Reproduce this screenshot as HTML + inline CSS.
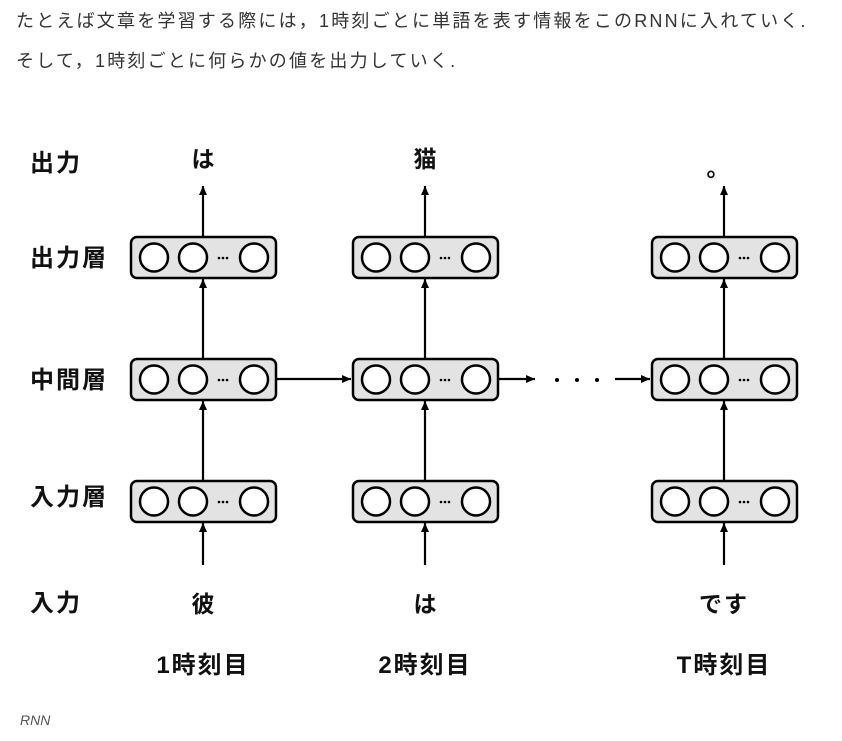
<!DOCTYPE html>
<html><head><meta charset="utf-8"><style>
body{margin:0;background:#fff;width:842px;height:741px;overflow:hidden;font-family:"Liberation Sans","Noto Sans CJK JP",sans-serif;}
.t{position:absolute;left:16px;font-size:18px;color:#333;white-space:nowrap;letter-spacing:2.2px;}
</style></head><body>
<div class="t" style="top:7px">たとえば文章を学習する際には，1時刻ごとに単語を表す情報をこのRNNに入れていく.</div>
<div class="t" style="top:47px">そして，1時刻ごとに何らかの値を出力していく.</div>
<svg width="842" height="741" style="position:absolute;left:0;top:0" font-family="'Liberation Sans','Noto Sans CJK JP',sans-serif">
<defs><marker id="a" markerWidth="10" markerHeight="10" refX="9" refY="5" orient="auto" markerUnits="userSpaceOnUse"><path d="M0,1 L9,5 L0,9 z" fill="#000"/></marker></defs>
<g font-weight="bold" font-size="24" fill="#111" letter-spacing="2">
<text x="30" y="171">出力</text>
<text x="30" y="266">出力層</text>
<text x="30" y="388">中間層</text>
<text x="30" y="505">入力層</text>
<text x="30" y="611">入力</text>
</g>
<g font-weight="bold" font-size="23" fill="#111" text-anchor="middle">
<text x="203" y="167">は</text><text x="425" y="167">猫</text><text x="718" y="176">。</text>
<text x="203" y="612">彼</text><text x="425" y="612">は</text><text x="724" y="612" letter-spacing="2">です</text>
</g>
<g font-weight="bold" font-size="24" fill="#111" text-anchor="middle" letter-spacing="2">
<text x="203" y="673">1時刻目</text><text x="425" y="673">2時刻目</text><text x="724" y="673">T時刻目</text>
</g>
<g stroke="#000" stroke-width="2.2" fill="none">
<g id="c1">
<line x1="203" y1="565" x2="203" y2="523" marker-end="url(#a)"/>
<line x1="203" y1="480" x2="203" y2="401" marker-end="url(#a)"/>
<line x1="203" y1="358" x2="203" y2="279" marker-end="url(#a)"/>
<line x1="203" y1="236" x2="203" y2="186" marker-end="url(#a)"/>
</g>
<use href="#c1" x="222"/>
<use href="#c1" x="521"/>
<line x1="276" y1="379" x2="351" y2="379" marker-end="url(#a)"/>
<line x1="497" y1="379" x2="535" y2="379" marker-end="url(#a)"/>
<line x1="615" y1="379" x2="650" y2="379" marker-end="url(#a)"/>
</g>
<g fill="#000"><circle cx="557" cy="380" r="2"/><circle cx="577" cy="380" r="2"/><circle cx="597" cy="380" r="2"/></g>
<g id="box">
<rect x="131" y="237" width="145" height="41" rx="6" fill="#e3e3e3" stroke="#000" stroke-width="2.5"/>
<circle cx="154" cy="257.5" r="14" fill="#fff" stroke="#000" stroke-width="2.5"/>
<circle cx="193" cy="257.5" r="14" fill="#fff" stroke="#000" stroke-width="2.5"/>
<circle cx="254" cy="257.5" r="14" fill="#fff" stroke="#000" stroke-width="2.5"/>
<circle cx="219" cy="258" r="1.3" fill="#000"/><circle cx="223" cy="258" r="1.3" fill="#000"/><circle cx="227" cy="258" r="1.3" fill="#000"/>
</g>
<use href="#box" y="122"/><use href="#box" y="244"/>
<use href="#box" x="222"/><use href="#box" x="222" y="122"/><use href="#box" x="222" y="244"/>
<use href="#box" x="521"/><use href="#box" x="521" y="122"/><use href="#box" x="521" y="244"/>
<text x="20" y="725" font-size="14" font-style="italic" fill="#555">RNN</text>
</svg>
</body></html>
